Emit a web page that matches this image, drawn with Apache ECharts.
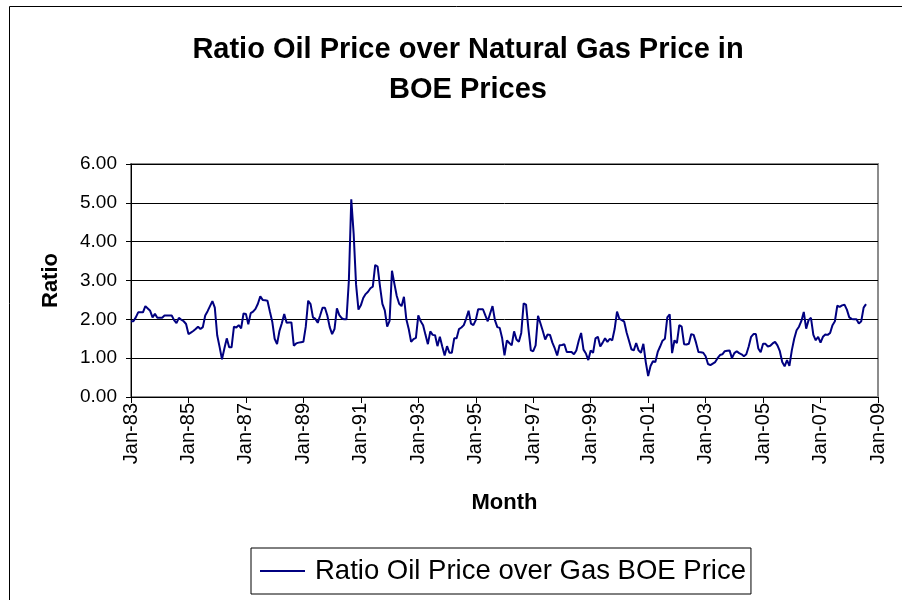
<!DOCTYPE html>
<html>
<head>
<meta charset="utf-8">
<script src="https://cdn.jsdelivr.net/npm/echarts@6/dist/echarts.min.js"></script>
<style>
  html, body { margin: 0; padding: 0; background: #fff; }
  #chart { width: 902px; height: 600px; }
</style>
</head>
<body>
<div id="chart"></div>
<script>
// 月份标签 Jan-83 ... Jan-09
var monthNames = ['Jan', 'Feb', 'Mar', 'Apr', 'May', 'Jun', 'Jul', 'Aug', 'Sep', 'Oct', 'Nov', 'Dec'];
var firstYear = 1983;
var lastYear = 2009;

// 比值数据 (按月, Jan-83 起)
var ratio1983 = [1.95, 1.95, 2.05, 2.18, 2.18, 2.18, 2.34, 2.28, 2.22, 2.05, 2.14, 2.04];
var ratio1984 = [2.04, 2.04, 2.10, 2.10, 2.10, 2.10, 1.98, 1.90, 2.04, 1.99, 1.95, 1.88];
var ratio1985 = [1.62, 1.66, 1.70, 1.75, 1.81, 1.75, 1.80, 2.10, 2.21, 2.34, 2.47, 2.30];
var ratio1986 = [1.59, 1.29, 0.97, 1.25, 1.51, 1.28, 1.28, 1.81, 1.79, 1.85, 1.77, 2.15];
var ratio1987 = [2.14, 1.87, 2.16, 2.20, 2.27, 2.40, 2.59, 2.50, 2.49, 2.48, 2.20, 1.94];
var ratio1988 = [1.50, 1.36, 1.70, 1.90, 2.14, 1.91, 1.92, 1.92, 1.32, 1.38, 1.40, 1.41];
var ratio1989 = [1.42, 1.81, 2.48, 2.39, 2.05, 2.01, 1.91, 2.10, 2.30, 2.30, 2.10, 1.80];
var ratio1990 = [1.62, 1.75, 2.28, 2.11, 2.03, 2.00, 2.00, 3.00, 5.09, 4.20, 2.90, 2.25];
var ratio1991 = [2.36, 2.55, 2.65, 2.71, 2.80, 2.84, 3.40, 3.36, 2.85, 2.40, 2.23, 1.81];
var ratio1992 = [1.96, 3.25, 2.92, 2.60, 2.40, 2.34, 2.58, 2.00, 1.75, 1.42, 1.49, 1.52];
var ratio1993 = [2.10, 1.95, 1.85, 1.60, 1.36, 1.69, 1.60, 1.59, 1.31, 1.55, 1.30, 1.07];
var ratio1994 = [1.31, 1.14, 1.14, 1.51, 1.51, 1.75, 1.79, 1.85, 2.02, 2.22, 1.89, 1.85];
var ratio1995 = [1.98, 2.26, 2.26, 2.26, 2.10, 1.95, 2.15, 2.34, 1.98, 1.80, 1.78, 1.52];
var ratio1996 = [1.07, 1.46, 1.39, 1.33, 1.69, 1.48, 1.42, 1.65, 2.41, 2.38, 1.75, 1.20];
var ratio1997 = [1.18, 1.33, 2.09, 1.90, 1.70, 1.48, 1.61, 1.60, 1.40, 1.25, 1.07, 1.33];
var ratio1998 = [1.34, 1.36, 1.16, 1.16, 1.16, 1.10, 1.20, 1.45, 1.65, 1.22, 1.12, 0.95];
var ratio1999 = [1.20, 1.14, 1.51, 1.55, 1.30, 1.40, 1.51, 1.42, 1.50, 1.46, 1.75, 2.20];
var ratio2000 = [2.01, 1.98, 1.94, 1.66, 1.45, 1.23, 1.20, 1.39, 1.20, 1.14, 1.37, 0.90];
var ratio2001 = [0.54, 0.80, 0.92, 0.90, 1.16, 1.30, 1.45, 1.50, 2.05, 2.13, 1.13, 1.46];
var ratio2002 = [1.39, 1.85, 1.81, 1.36, 1.35, 1.37, 1.62, 1.60, 1.40, 1.16, 1.15, 1.14];
var ratio2003 = [1.05, 0.85, 0.82, 0.86, 0.90, 1.00, 1.08, 1.10, 1.18, 1.19, 1.20, 1.00];
var ratio2004 = [1.13, 1.18, 1.13, 1.10, 1.05, 1.10, 1.30, 1.55, 1.62, 1.62, 1.25, 1.15];
var ratio2005 = [1.37, 1.37, 1.30, 1.32, 1.38, 1.42, 1.33, 1.18, 0.90, 0.79, 0.95, 0.80];
var ratio2006 = [1.20, 1.50, 1.72, 1.81, 1.96, 2.19, 1.76, 1.98, 2.04, 1.60, 1.46, 1.55];
var ratio2007 = [1.40, 1.55, 1.61, 1.60, 1.65, 1.85, 1.95, 2.35, 2.32, 2.36, 2.38, 2.25];
var ratio2008 = [2.05, 2.01, 2.00, 2.00, 1.89, 1.95, 2.30, 2.39];

var ratioData = [].concat(
    ratio1983, ratio1984, ratio1985, ratio1986, ratio1987, ratio1988, ratio1989,
    ratio1990, ratio1991, ratio1992, ratio1993, ratio1994, ratio1995, ratio1996,
    ratio1997, ratio1998, ratio1999, ratio2000, ratio2001, ratio2002, ratio2003,
    ratio2004, ratio2005, ratio2006, ratio2007, ratio2008
);

// 类目: 每月一个, 一直到 Jan-09
var categories = [];
for (var y = firstYear; y <= lastYear; y++) {
    for (var m = 0; m < 12; m++) {
        categories.push(monthNames[m] + '-' + String(y).slice(2));
        if (y === lastYear) break;
    }
}

var seriesName = 'Ratio Oil Price over Gas BOE Price';
var fontName = 'Liberation Sans, Arial, sans-serif';

var myChart = echarts.init(document.getElementById('chart'));

// 每两年一个刻度
var everyTwoYears = function (index) {
    return index % 24 === 0;
};

var option = {
    animation: false,
    backgroundColor: '#ffffff',
    graphic: [{
        type: 'rect',
        shape: { x: 9.5, y: 6.5, width: 920, height: 620 },
        style: { fill: 'none', stroke: '#000', lineWidth: 1 },
        silent: true
    }],
    title: {
        text: 'Ratio Oil Price over Natural Gas Price in\nBOE Prices',
        left: 463,
        textAlign: 'center',
        top: 25,
        textStyle: {
            fontFamily: fontName,
            fontWeight: 'bold',
            fontSize: 29,
            lineHeight: 40,
            color: '#000'
        }
    },
    grid: {
        left: 131,
        right: 24,
        top: 164,
        bottom: 203,
        show: true,
        borderColor: '#8c8c8c',
        borderWidth: 2,
        backgroundColor: '#fff'
    },
    legend: {
        data: [seriesName],
        left: 251,
        top: 548,
        padding: [9, 5, 9, 9],
        borderColor: '#000',
        borderWidth: 1,
        itemWidth: 45,
        itemHeight: 2,
        itemGap: 10,
        icon: 'rect',
        textStyle: {
            fontFamily: fontName,
            fontSize: 27.5,
            color: '#000',
            padding: [0, 0, 0, 5]
        }
    },
    xAxis: {
        type: 'category',
        data: categories,
        boundaryGap: false,
        name: 'Month',
        nameLocation: 'middle',
        nameGap: 95,
        nameTextStyle: {
            fontFamily: fontName,
            fontWeight: 'bold',
            fontSize: 22,
            color: '#000'
        },
        axisLine: { lineStyle: { color: '#000', width: 1 } },
        axisTick: { show: true, interval: everyTwoYears, length: 6, lineStyle: { color: '#000' } },
        axisLabel: {
            interval: everyTwoYears,
            rotate: 90,
            fontFamily: fontName,
            fontSize: 20,
            color: '#000',
            margin: 6
        },
        splitLine: { show: false }
    },
    yAxis: {
        type: 'value',
        min: 0,
        max: 6,
        interval: 1,
        name: 'Ratio',
        nameLocation: 'middle',
        nameGap: 69,
        nameTextStyle: {
            fontFamily: fontName,
            fontWeight: 'bold',
            fontSize: 22,
            color: '#000'
        },
        axisLine: { show: true, lineStyle: { color: '#000', width: 1 } },
        axisTick: { show: true, length: 5, lineStyle: { color: '#000' } },
        axisLabel: {
            formatter: function (v) { return v.toFixed(2); },
            fontFamily: fontName,
            fontSize: 19,
            color: '#000',
            margin: 14
        },
        splitLine: { show: true, lineStyle: { color: '#000', width: 1 } }
    },
    series: [{
        name: seriesName,
        type: 'line',
        data: ratioData,
        showSymbol: false,
        symbol: 'none',
        lineStyle: { color: '#000080', width: 2 },
        itemStyle: { color: '#000080' }
    }]
};

myChart.setOption(option);
</script>
</body>
</html>
